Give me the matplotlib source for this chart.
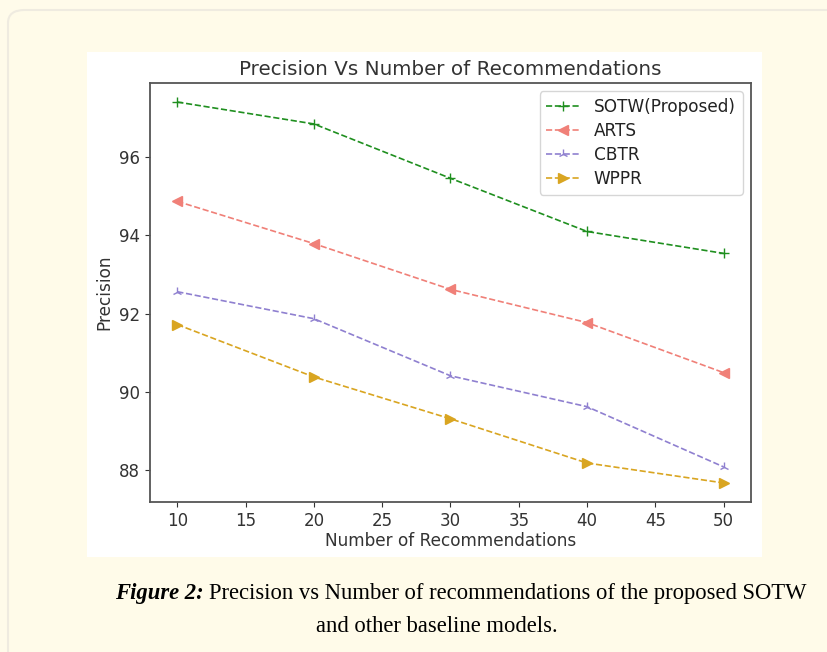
import matplotlib
matplotlib.use("Agg")
import matplotlib.pyplot as plt
from matplotlib.patches import Rectangle, FancyBboxPatch

plt.rcParams["font.family"] = ["DejaVu Sans"]

W, H = 828, 652

recs = [10, 20, 30, 40, 50]
sotw = [97.41, 96.85, 95.46, 94.10, 93.54]
arts = [94.87, 93.79, 92.62, 91.77, 90.49]
cbtr = [92.56, 91.87, 90.41, 89.62, 88.08]
wppr = [91.72, 90.38, 89.31, 88.18, 87.67]

fig = plt.figure(figsize=(W / 100, H / 100), dpi=100)
fig.patch.set_facecolor("#fffbea")

# rounded panel + white picture area (pixel coords, origin top-left)
def px(x, y):
    return x / W, 1 - y / H

panel = FancyBboxPatch(px(8, 700), (860 - 8) / W, (700 - 10) / H,
                       boxstyle="round,pad=0,rounding_size=0.02",
                       transform=fig.transFigure, facecolor="#fffbe9",
                       edgecolor="#efebe0", linewidth=1.5, zorder=0)
fig.patches.append(panel)
fig.patches.append(Rectangle(px(87, 557), (762 - 87) / W, (557 - 52) / H,
                             transform=fig.transFigure, facecolor="white",
                             edgecolor="none", zorder=1))

ax = fig.add_axes([150 / W, 1 - 502 / H, (751 - 150) / W, (502 - 83) / H])
ax.set_zorder(2)

kw = dict(linestyle="--", linewidth=1.2, markersize=7)
ax.plot(recs, sotw, color="#1f8f1f", marker="+", label="SOTW(Proposed)", **kw)
ax.plot(recs, arts, color="#f08078", marker="<", label="ARTS", **kw)
ax.plot(recs, cbtr, color="#8f80d0", marker="2", label="CBTR", **kw)
ax.plot(recs, wppr, color="#d9a521", marker=">", label="WPPR", **kw)

ax.set_title("Precision Vs Number of Recommendations", fontsize=14.3, color="#333333", pad=6)
ax.set_xlabel("Number of Recommendations", fontsize=12.2, color="#333333", labelpad=2)
ax.set_ylabel("Precision", fontsize=12.2, color="#333333", labelpad=4)
ax.tick_params(labelsize=12, colors="#333333")
for s in ax.spines.values():
    s.set_color("#555555")
    s.set_linewidth(1.3)
ax.legend(loc="upper right", fontsize=12.2, handlelength=2.0, labelcolor="#222222",
          borderaxespad=0.5, labelspacing=0.35)

fy = px(0, 593)[1]
cap1_a = fig.text(px(115, 593)[0], fy, "Figure 2:", family="Liberation Serif",
                  fontsize=16.3, fontweight="bold", style="italic", va="center")
fig.canvas.draw()
bb = cap1_a.get_window_extent()
fig.text((bb.x1 + 5) / W, fy, "Precision vs Number of recommendations of the proposed SOTW",
         family="Liberation Serif", fontsize=16.3, va="center")
fig.text(*px(437, 626), "and other baseline models.", family="Liberation Serif",
         fontsize=16.3, ha="center", va="center")

fig.savefig("out.png", dpi=100, facecolor=fig.get_facecolor())
